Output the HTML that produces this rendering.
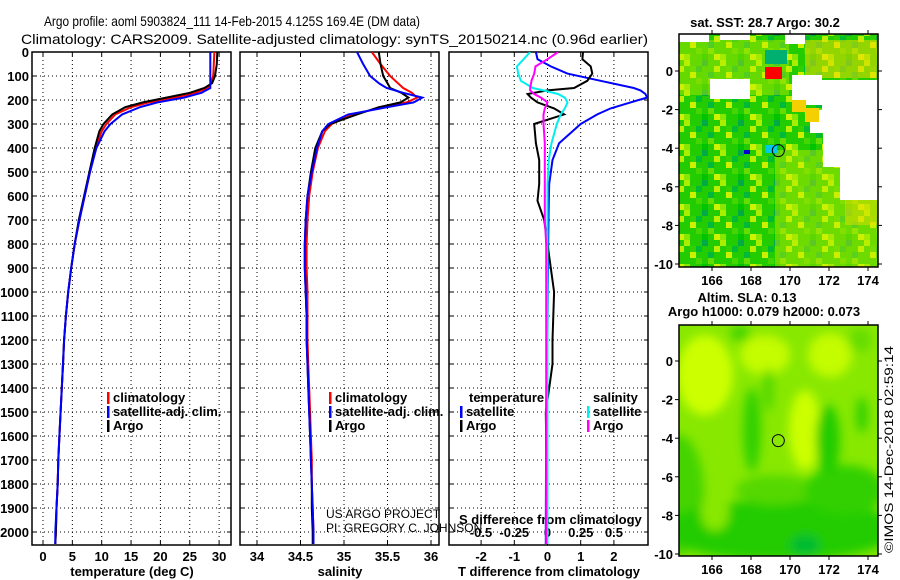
<!DOCTYPE html>
<html><head><meta charset="utf-8"><style>
body{margin:0;background:#fff;}
svg{display:block;font-family:"Liberation Sans",sans-serif;}
.t{font-size:13px;font-weight:bold;fill:#000}
.g{stroke:#000;stroke-width:1;stroke-dasharray:1 3}
</style></head><body>
<svg id="fig" width="900" height="580" viewBox="0 0 900 580">
<defs>
<pattern id="noise" width="36" height="30" patternUnits="userSpaceOnUse">
<rect width="36" height="30" fill="#22cc00"/>
<rect x="0" y="0" width="6" height="6" fill="#aaee00"/><rect x="12" y="6" width="6" height="6" fill="#00bb33"/>
<rect x="6" y="12" width="6" height="6" fill="#ccf000"/><rect x="24" y="18" width="6" height="6" fill="#66dd00"/>
<rect x="18" y="0" width="6" height="6" fill="#00aa44"/><rect x="0" y="24" width="6" height="6" fill="#88e600"/>
<rect x="30" y="6" width="6" height="6" fill="#bbee00"/><rect x="18" y="24" width="6" height="6" fill="#00c400"/>
<rect x="12" y="18" width="6" height="6" fill="#44d600"/><rect x="30" y="24" width="6" height="6" fill="#ccf400"/>
<rect x="24" y="12" width="6" height="6" fill="#00b83a"/><rect x="6" y="6" width="6" height="6" fill="#33d000"/>
</pattern>
<filter id="blur"><feGaussianBlur stdDeviation="5"/></filter>
<clipPath id="c1"><rect x="32" y="52" width="199" height="493"/></clipPath>
<clipPath id="c2"><rect x="240" y="52" width="199" height="493"/></clipPath>
<clipPath id="c3"><rect x="449" y="52" width="199" height="493"/></clipPath>
<clipPath id="m1"><rect x="679" y="34" width="199" height="233"/></clipPath>
<clipPath id="m2"><rect x="679" y="325" width="199" height="231"/></clipPath>
</defs>
<text x="44" y="26" font-size="14" textLength="376" lengthAdjust="spacingAndGlyphs">Argo profile: aoml 5903824_111 14-Feb-2015 4.125S 169.4E (DM data)</text>
<text x="21" y="44" font-size="14" textLength="627" lengthAdjust="spacingAndGlyphs">Climatology: CARS2009. Satellite-adjusted climatology: synTS_20150214.nc (0.96d earlier)</text>
<g id="panels"></g>
<g id="maps"></g>
<text transform="translate(893,553) rotate(-90)" font-size="12" textLength="207" lengthAdjust="spacingAndGlyphs">©IMOS 14-Dec-2018 02:59:14</text>
</svg>
<script>
// ---- data ----
const depthTicks=[0,100,200,300,400,500,600,700,800,900,1000,1100,1200,1300,1400,1500,1600,1700,1800,1900,2000];
const tempTicks=[0,5,10,15,20,25,30];
const salTicks=[34,34.5,35,35.5,36];
const salTickLabels=["34","34.5","35","35.5","36"];
const tdTicks=[-2,-1,0,1,2];
const sdTicks=[-0.5,-0.25,0,0.25,0.5];
const sdTickLabels=["-0.5","-0.25","0","0.25","0.5"];
const depths=[0,50,100,130,150,170,190,210,230,260,300,330,400,500,600,700,800,900,1000,1100,1200,1300,1400,1500,1600,1700,1800,1900,2000,2050];
const tempArgo=[29.7,29.6,29.3,28.8,27.5,25,21,17,14,11.8,10.3,9.6,8.8,7.9,7.0,6.1,5.4,4.8,4.3,3.9,3.6,3.4,3.2,3.0,2.8,2.6,2.5,2.3,2.2,2.1];
const tempClim=[29.2,29.1,29.0,28.6,28,26,22.5,18,15,12.3,10.8,10,9,8.0,7.1,6.2,5.4,4.8,4.3,3.9,3.6,3.4,3.2,3.0,2.8,2.6,2.5,2.3,2.2,2.1];
const tempSat=[28.5,28.5,28.5,28.5,28.5,27,24,19.5,16.5,13.5,11.5,10.5,9.1,8.0,7.1,6.2,5.4,4.8,4.3,3.9,3.6,3.4,3.2,3.0,2.8,2.6,2.5,2.3,2.1,2.1];
const salArgo=[35.4,35.42,35.45,35.5,35.53,35.66,35.74,35.65,35.4,35.15,34.84,34.75,34.67,34.62,34.58,34.56,34.55,34.55,34.56,34.57,34.57,34.58,34.59,34.6,34.61,34.62,34.63,34.63,34.64,34.64];
const salClim=[35.32,35.42,35.53,35.62,35.68,35.78,35.84,35.72,35.45,35.1,34.86,34.78,34.7,34.64,34.6,34.58,34.57,34.57,34.58,34.58,34.58,34.59,34.6,34.61,34.62,34.63,34.63,34.64,34.65,34.65];
const salSat=[35.15,35.22,35.3,35.4,35.49,35.68,35.9,35.8,35.5,35.05,34.82,34.75,34.69,34.63,34.58,34.56,34.55,34.55,34.56,34.57,34.57,34.58,34.59,34.6,34.61,34.62,34.63,34.64,34.65,34.65];
const diffDepths=[0,30,60,90,120,150,160,175,190,210,235,260,300,380,450,550,620,700,800,1000,1200,1300,1400,1500,2000,2050];
const tdSat=[-0.35,-0.3,0.1,0.6,1.6,2.6,2.8,2.95,3.0,2.5,1.9,1.5,1.0,0.35,0.15,0.05,0.04,0.03,0.02,0.01,0,-0.02,-0.03,-0.04,-0.05,-0.05];
const tdArgo=[1.07,1.05,1.3,1.35,1.2,0.8,0.0,-0.6,-0.5,-0.3,0.2,0.5,-0.4,-0.35,-0.25,-0.25,-0.3,-0.1,0,0.2,0.15,0.15,0.05,-0.05,0,0];
const sdSat=[-0.13,-0.18,-0.23,-0.22,-0.2,-0.11,-0.03,0.08,0.13,0.15,0.13,0.1,0.07,0.03,0.01,0,0,0,0,0,0,0,0,0,0,0];
const sdArgo=[0.08,0.0,-0.09,-0.1,-0.12,-0.13,-0.13,-0.1,-0.05,0.0,-0.02,-0.03,-0.03,-0.02,-0.02,-0.02,-0.02,-0.02,-0.01,-0.01,-0.01,-0.01,-0.01,-0.01,-0.01,-0.01];
const mapLons=[166,168,170,172,174];
const mapLats=[0,-2,-4,-6,-8,-10];

// ---- helpers ----
const NS="http://www.w3.org/2000/svg";
function mk(tag,attrs,parent){const e=document.createElementNS(NS,tag);for(const k in attrs)e.setAttribute(k,attrs[k]);parent.appendChild(e);return e;}
const yD=d=>52+d*0.24;
const P=document.getElementById('panels');

function panel(x0,name,xf,ticks,labels,label){
  const g=mk('g',{},P);
  
  
  depthTicks.forEach(d=>{if(d>0){mk('line',{x1:x0,x2:x0+199,y1:yD(d),y2:yD(d),class:'g'},g);}
    mk('line',{x1:x0,x2:x0+4,y1:yD(d),y2:yD(d),stroke:'#000'},g);mk('line',{x1:x0+195,x2:x0+199,y1:yD(d),y2:yD(d),stroke:'#000'},g);});
  ticks.forEach((v,i)=>{const x=xf(v);mk('line',{x1:x,x2:x,y1:52,y2:545,class:'g'},g);
    mk('line',{x1:x,x2:x,y1:541,y2:545,stroke:'#000'},g);mk('line',{x1:x,x2:x,y1:52,y2:56,stroke:'#000'},g);
    if(labels){const t=mk('text',{x:x,y:561,class:'t','text-anchor':'middle'},g);t.textContent=labels[i];}});
  mk('rect',{x:x0,y:52,width:199,height:493,fill:'none',stroke:'#000','stroke-width':1.5},g);
  if(label){const t=mk('text',{x:x0+100,y:576,class:'t','text-anchor':'middle'},g);t.textContent=label;}
  return g;
}
function line(g,xs,ds,xf,col,name,clip){
  const pts=xs.map((v,i)=>xf(v).toFixed(1)+','+yD(ds[i]).toFixed(1)).join(' ');
  const p=mk('polyline',{points:pts,fill:'none',stroke:col,'stroke-width':2,'clip-path':'url(#'+clip+')'},g);
  
  
}
function legend(g,x,y,items){
  items.forEach((it,i)=>{mk('rect',{x:x,y:y+i*14-10,width:2.5,height:12,fill:it[1]},g);
    const t=mk('text',{x:x+6,y:y+i*14,class:'t'},g);t.textContent=it[0];});
}

depthTicks.forEach(d=>{const t=mk('text',{x:29,y:yD(d)+5,class:'t','text-anchor':'end'},P);t.textContent=d;});

const xT=v=>43+v*5.87;
const g1=panel(32,'temperature-panel',xT,tempTicks,tempTicks.map(String),'temperature (deg C)');
line(g1,tempClim,depths,xT,'#ff0000','temp-climatology-line','c1');
line(g1,tempArgo,depths,xT,'#000','temp-argo-line','c1');
line(g1,tempSat,depths,xT,'#0000ff','temp-satellite-line','c1');
legend(g1,107,402,[['climatology','#f00'],['satellite-adj. clim.','#00f'],['Argo','#000']]);

const xS=v=>257+(v-34)*87;
const g2=panel(240,'salinity-panel',xS,salTicks,salTickLabels,'salinity');
line(g2,salClim,depths,xS,'#ff0000','sal-climatology-line','c2');
line(g2,salArgo,depths,xS,'#000','sal-argo-line','c2');
line(g2,salSat,depths,xS,'#0000ff','sal-satellite-line','c2');
legend(g2,329,402,[['climatology','#f00'],['satellite-adj. clim.','#00f'],['Argo','#000']]);
const cr=mk('text',{x:326,y:518,'font-size':12},g2);cr.textContent='US ARGO PROJECT';
const cr2=mk('text',{x:326,y:532,'font-size':12},g2);cr2.textContent='PI: GREGORY C. JOHNSON';

const xTd=v=>547.5+v*33.2, xSd=v=>547.5+v*133;
const g3=panel(449,'difference-panel',xTd,tdTicks,tdTicks.map(String),'T difference from climatology');
sdTicks.forEach((v,i)=>{const t=mk('text',{x:xSd(v),y:537,class:'t','text-anchor':'middle'},g3);t.textContent=sdTickLabels[i];});
const st=mk('text',{x:459,y:524,class:'t'},g3);st.textContent='S difference from climatology';
line(g3,tdSat,diffDepths,xTd,'#0000ff','tdiff-satellite-line','c3');
line(g3,tdArgo,diffDepths,xTd,'#000','tdiff-argo-line','c3');
line(g3,sdSat,diffDepths,xSd,'#00eeee','sdiff-satellite-line','c3');
line(g3,sdArgo,diffDepths,xSd,'#ff00ff','sdiff-argo-line','c3');
const h1=mk('text',{x:469,y:402,class:'t'},g3);h1.textContent='temperature';
legend(g3,460,416,[['satellite','#00f'],['Argo','#000']]);
const h2=mk('text',{x:593,y:402,class:'t'},g3);h2.textContent='salinity';
legend(g3,587,416,[['satellite','#0ee'],['Argo','#f0f']]);

// ---- maps ----
const M=document.getElementById('maps');
function mapAxes(g,top,bot,lat0){
  const lx=v=>712+(v-166)*19.5, ly=v=>lat0-v*19.3;
  mk('rect',{x:679,y:top,width:199,height:bot-top,fill:'none',stroke:'#000','stroke-width':1.5},g);
  mapLons.forEach(v=>{const x=lx(v);mk('line',{x1:x,x2:x,y1:bot,y2:bot+4,stroke:'#000'},g);mk('line',{x1:x,x2:x,y1:top-4,y2:top,stroke:'#000'},g);
    const t=mk('text',{x:x,y:bot+18,class:'t','text-anchor':'middle'},g);t.textContent=v;});
  mapLats.forEach(v=>{const y=ly(v);mk('line',{x1:675,x2:679,y1:y,y2:y,stroke:'#000'},g);mk('line',{x1:878,x2:882,y1:y,y2:y,stroke:'#000'},g);
    const t=mk('text',{x:673,y:y+5,class:'t','text-anchor':'end'},g);t.textContent=v;});
  mk('circle',{cx:lx(169.4),cy:ly(-4.125),r:6,fill:'none',stroke:'#000'},g);
}
const g4=mk('g',{},M);


const m1=mk('g',{'clip-path':'url(#m1)'},g4);
mk('rect',{x:679,y:34,width:199,height:233,fill:'url(#noise)'},m1);
mk('rect',{x:775,y:150,width:103,height:117,fill:'#ccee00',opacity:0.45},m1);
mk('rect',{x:679,y:40,width:110,height:55,fill:'#ccee00',opacity:0.4},m1);
mk('rect',{x:805,y:40,width:73,height:38,fill:'#eedd00',opacity:0.55},m1);
mk('rect',{x:845,y:185,width:33,height:40,fill:'#eedd00',opacity:0.45},m1);
[[679,34,30,8],[720,34,30,6],[785,34,20,10],[710,79,40,20],[792,75,30,30],[822,80,56,30],[810,110,68,23],[823,133,55,34],[840,167,38,33]].forEach(r=>mk('rect',{x:r[0],y:r[1],width:r[2],height:r[3],fill:'#fff'},m1));
mk('rect',{x:765,y:67,width:17,height:12,fill:'#ff0000'},m1);
mk('rect',{x:765,y:50,width:22,height:14,fill:'#00b070'},m1);
mk('rect',{x:792,y:100,width:14,height:12,fill:'#f5d000'},m1);
mk('rect',{x:805,y:108,width:14,height:14,fill:'#f5d000'},m1);
mk('rect',{x:765,y:145,width:12,height:8,fill:'#00c8e8'},m1);
mk('rect',{x:744,y:150,width:6,height:4,fill:'#0000cc'},m1);
const sst=mk('text',{x:765,y:27,class:'t','text-anchor':'middle'},g4);sst.textContent='sat. SST: 28.7 Argo: 30.2';
mapAxes(g4,34,267,71);

const g5=mk('g',{},M);


const m2=mk('g',{'clip-path':'url(#m2)'},g5);
mk('rect',{x:679,y:325,width:199,height:231,fill:'#88e800'},m2);
const bl=mk('g',{filter:'url(#blur)'},m2);
[[679,495,25,60,'#44d400'],[780,530,120,30,'#22cc00'],[775,490,40,15,'#55d800'],[845,490,40,25,'#33d000'],
 [705,375,28,40,'#ccff00'],[765,355,25,20,'#c4fc00'],[830,355,22,22,'#c4fc00'],[805,430,16,40,'#ccff00'],
 [752,430,9,42,'#33d000'],[828,440,12,35,'#22cc00'],[862,415,6,18,'#33d000'],[715,513,14,18,'#88e800'],
 [740,333,10,8,'#44d400'],[860,340,12,12,'#66dd00'],[805,545,15,10,'#00bb33'],[768,390,6,22,'#55d800']].forEach(e=>mk('ellipse',{cx:e[0],cy:e[1],rx:e[2],ry:e[3],fill:e[4]},bl));
const s1=mk('text',{x:747,y:302,class:'t','text-anchor':'middle'},g5);s1.textContent='Altim. SLA: 0.13';
const s2=mk('text',{x:764,y:316,class:'t','text-anchor':'middle'},g5);s2.textContent='Argo h1000: 0.079 h2000: 0.073';
mapAxes(g5,325,556,361);
</script>
</body></html>
